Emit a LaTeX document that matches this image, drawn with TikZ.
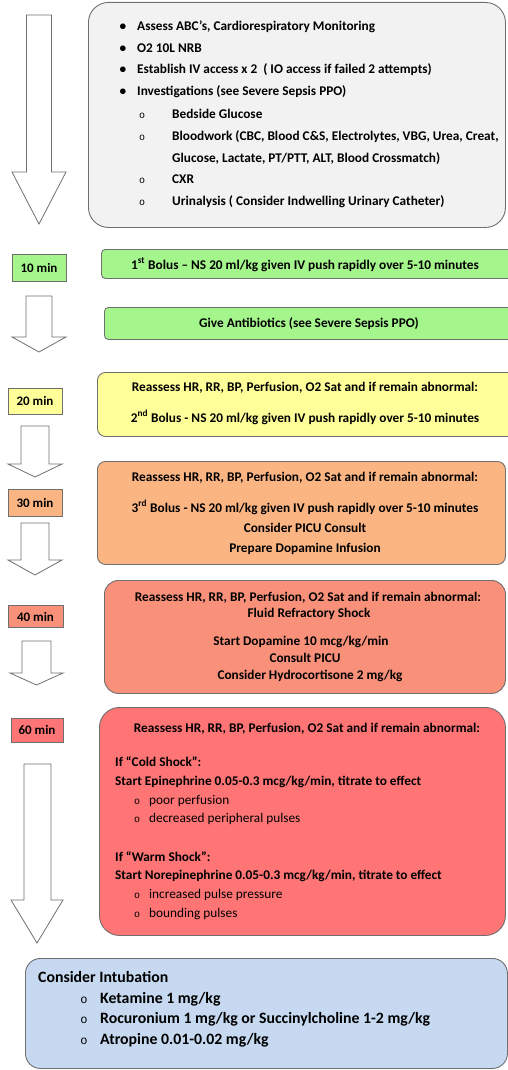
\documentclass[tikz,border=0pt]{standalone}
\usepackage{fontspec}
\setmainfont{Carlito}
\newfontfamily\bulletmono{Liberation Mono}
\definecolor{grayfill}{HTML}{F2F2F2}
\definecolor{greenfill}{HTML}{A4F58C}
\definecolor{yellowfill}{HTML}{FFFF99}
\definecolor{orangefill}{HTML}{FBB583}
\definecolor{salmonfill}{HTML}{F9917A}
\definecolor{redfill}{HTML}{FF7575}
\definecolor{bluefill}{HTML}{C6D9F0}
\definecolor{edge}{HTML}{6F6F6F}
\newcommand{\ob}{{\bulletmono\mdseries\fontsize{10}{10}\selectfont o}}
\newcommand{\obig}{{\bulletmono\mdseries\fontsize{12}{12}\selectfont o}}
\tikzset{
  box/.style={draw=edge, line width=0.9pt, anchor=north west, inner sep=0pt},
  timebox/.style={draw=edge, line width=0.9pt, inner sep=0pt, font=\fontsize{13}{15}\selectfont\bfseries},
  txt/.style={inner sep=0pt, font=\fontsize{13.3}{15}\selectfont\bfseries},
  rtxt/.style={inner sep=0pt, font=\fontsize{13.3}{15}\selectfont},
  bigtxt/.style={inner sep=0pt, font=\fontsize{15.8}{18}\selectfont\bfseries},
  blockarrow/.style={draw=edge, line width=0.8pt, fill=white, line join=miter},
}
\begin{document}
\begin{tikzpicture}[x=1pt,y=-1pt]
\useasboundingbox (0,0) rectangle (507,1070);
% ---------- arrows ----------
\draw[blockarrow] (26.5,15) -- (51.5,15) -- (51.5,172) -- (66,172) -- (39,224) -- (12,172) -- (26.5,172) -- cycle;
\draw[blockarrow] (26,296) -- (52,296) -- (52,337) -- (66,337) -- (39,352) -- (12,337) -- (26,337) -- cycle;
\draw[blockarrow] (21,426) -- (49,426) -- (49,464) -- (62,464) -- (35,477) -- (8,464) -- (21,464) -- cycle;
\draw[blockarrow] (21,523) -- (49,523) -- (49,560) -- (62,560) -- (35,575) -- (8,560) -- (21,560) -- cycle;
\draw[blockarrow] (22,641) -- (51,641) -- (51,673) -- (63,673) -- (36.5,685) -- (10,673) -- (22,673) -- cycle;
\draw[blockarrow] (24,764) -- (51,764) -- (51,900) -- (63,900) -- (37,943) -- (11,900) -- (24,900) -- cycle;

% ---------- boxes ----------
\node[box, fill=grayfill, rounded corners=20pt, minimum width=417pt, minimum height=225pt] (b0) at (88,2) {};
\node[box, fill=greenfill, rounded corners=4pt, minimum width=420pt, minimum height=29pt] (b1) at (101,249) {};
\node[box, fill=greenfill, rounded corners=4pt, minimum width=420pt, minimum height=32pt] (b2) at (104,307) {};
\node[box, fill=yellowfill, rounded corners=8pt, minimum width=420pt, minimum height=64pt] (b3) at (97,372) {};
\node[box, fill=orangefill, rounded corners=8pt, minimum width=408pt, minimum height=103pt] (b4) at (97,461) {};
\node[box, fill=salmonfill, rounded corners=14pt, minimum width=401pt, minimum height=113pt] (b5) at (104,580) {};
\node[box, fill=redfill, rounded corners=20pt, minimum width=406pt, minimum height=228pt] (b6) at (99,707) {};
\node[box, fill=bluefill, rounded corners=15pt, minimum width=482pt, minimum height=110pt] (b7) at (25,958) {};

% ---------- time labels ----------
\node[timebox, fill=greenfill, minimum width=54pt, minimum height=27pt] (m10) at (39,268) {10 min};
\node[timebox, fill=yellowfill, minimum width=54pt, minimum height=26pt] (m20) at (35,401) {20 min};
\node[timebox, fill=orangefill, minimum width=54pt, minimum height=27pt] (m30) at (35,502.5) {30 min};
\node[timebox, fill=salmonfill, minimum width=55pt, minimum height=22pt] (m40) at (35.5,616.5) {40 min};
\node[timebox, fill=redfill, minimum width=52pt, minimum height=24pt] (m60) at (37,730) {60 min};

% ---------- top box text ----------
\foreach \yy/\tt [count=\i] in {31/{Assess ABC’s, Cardiorespiratory Monitoring},52.5/{O2 10L NRB},74/{Establish IV access x 2\ \ ( IO access if failed 2 attempts)},96/{Investigations (see Severe Sepsis PPO)}}{
  \node[txt, anchor=base] (b0d\i) at (123,\yy) {\textbullet};
  \node[txt, anchor=base west] (b0t\i) at (137,\yy) {\tt};
}
\foreach \yy/\tt [count=\i] in {118/{Bedside Glucose},140/{Bloodwork (CBC, Blood C\&S, Electrolytes, VBG, Urea, Creat,},183/{CXR},205/{Urinalysis ( Consider Indwelling Urinary Catheter)}}{
  \node[txt, anchor=base] (b0o\i) at (142,\yy) {\ob};
  \node[txt, anchor=base west] (b0s\i) at (172,\yy) {\tt};
}
\node[txt, anchor=base west] (b0g) at (172,162) {Glucose, Lactate, PT/PTT, ALT, Blood Crossmatch)};

% ---------- green ----------
\node[txt, anchor=base] (b1t) at (305,269) {1\textsuperscript{st} Bolus – NS 20 ml/kg given IV push rapidly over 5-10 minutes};
\node[txt, anchor=base] (b2t) at (309,327) {Give Antibiotics (see Severe Sepsis PPO)};

% ---------- yellow ----------
\node[txt, anchor=base] (b3a) at (305,391) {Reassess HR, RR, BP, Perfusion, O2 Sat and if remain abnormal:};
\node[txt, anchor=base] (b3b) at (305,422) {2\textsuperscript{nd} Bolus - NS 20 ml/kg given IV push rapidly over 5-10 minutes};

% ---------- orange ----------
\node[txt, anchor=base] (b4a) at (305,481) {Reassess HR, RR, BP, Perfusion, O2 Sat and if remain abnormal:};
\node[txt, anchor=base] (b4b) at (305,512) {3\textsuperscript{rd} Bolus - NS 20 ml/kg given IV push rapidly over 5-10 minutes};
\node[txt, anchor=base] (b4c) at (305,532) {Consider PICU Consult};
\node[txt, anchor=base] (b4d) at (305,552) {Prepare Dopamine Infusion};

% ---------- salmon ----------
\node[txt, anchor=base] (b5a) at (308,601) {Reassess HR, RR, BP, Perfusion, O2 Sat and if remain abnormal:};
\node[txt, anchor=base] (b5b) at (309,617) {Fluid Refractory Shock};
\node[txt, anchor=base] (b5c) at (301,645) {Start Dopamine 10 mcg/kg/min};
\node[txt, anchor=base] (b5d) at (305,662) {Consult PICU};
\node[txt, anchor=base] (b5e) at (310,679) {Consider Hydrocortisone 2 mg/kg};

% ---------- red ----------
\node[txt, anchor=base] (b6a) at (307,732) {Reassess HR, RR, BP, Perfusion, O2 Sat and if remain abnormal:};
\node[txt, anchor=base west] (b6b) at (115,766) {If “Cold Shock”:};
\node[txt, anchor=base west] (b6c) at (115,785) {Start Epinephrine 0.05-0.3 mcg/kg/min, titrate to effect};
\node[rtxt, anchor=base] (b6o1) at (137,804) {\ob};
\node[rtxt, anchor=base west] (b6d) at (149,804) {poor perfusion};
\node[rtxt, anchor=base] (b6o2) at (137,822) {\ob};
\node[rtxt, anchor=base west] (b6e) at (149,822) {decreased peripheral pulses};
\node[txt, anchor=base west] (b6f) at (115,861) {If “Warm Shock”:};
\node[txt, anchor=base west] (b6g) at (115,879) {Start Norepinephrine 0.05-0.3 mcg/kg/min, titrate to effect};
\node[rtxt, anchor=base] (b6o3) at (137,898) {\ob};
\node[rtxt, anchor=base west] (b6h) at (149,898) {increased pulse pressure};
\node[rtxt, anchor=base] (b6o4) at (137,917) {\ob};
\node[rtxt, anchor=base west] (b6i) at (149,917) {bounding pulses};

% ---------- blue ----------
\node[bigtxt, anchor=base west] (b7a) at (38,982) {Consider Intubation};
\foreach \yy/\tt [count=\i] in {1003.5/{Ketamine 1 mg/kg},1023/{Rocuronium 1 mg/kg or Succinylcholine 1-2 mg/kg},1044/{Atropine 0.01-0.02 mg/kg}}{
  \node[bigtxt, anchor=base] (b7o\i) at (84,\yy) {\obig};
  \node[bigtxt, anchor=base west] (b7t\i) at (100,\yy) {\tt};
}
\end{tikzpicture}
\end{document}
